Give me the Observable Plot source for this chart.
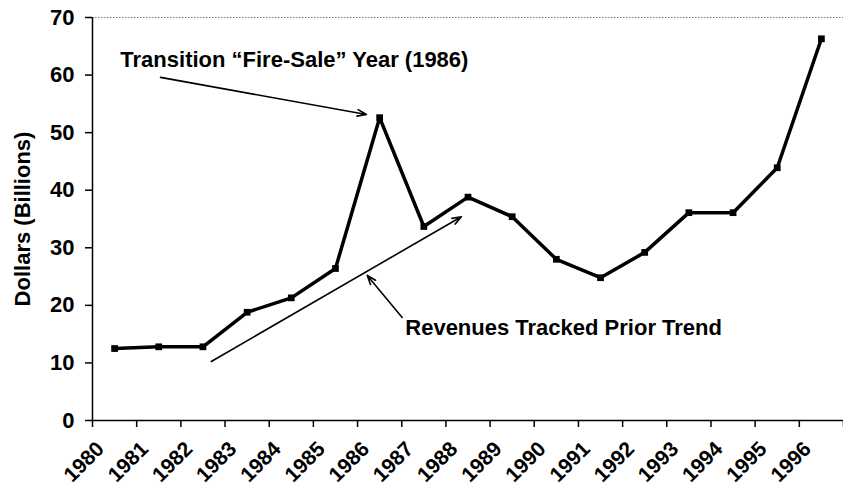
<!DOCTYPE html>
<html><head><meta charset="utf-8">
<script src="https://cdn.jsdelivr.net/npm/d3@7"></script>
<script src="https://cdn.jsdelivr.net/npm/@observablehq/plot@0.6"></script>
<style>body{margin:0;background:#fff}</style>
</head><body><div id="chart"></div>
<script>
const years = [1980,1981,1982,1983,1984,1985,1986,1987,1988,1989,1990,1991,1992,1993,1994,1995,1996];
const revenues = [12.5,12.8,12.8,18.8,21.3,26.4,52.6,33.7,38.8,35.4,28.0,24.8,29.2,36.1,36.1,43.9,66.3];
const yTicks = [0,10,20,30,40,50,60,70];
const xEdges = d3.range(1980, 1998);
const yLabel = "Dollars (Billions)";
const noteTexts = ["Transition \u201cFire-Sale\u201d Year (1986)", "Revenues Tracked Prior Trend"];
const noteX = [1980.63, 1987.08];
const noteY = [62.6, 16.0];
const arrowsX1 = [1981.54, 1982.69, 1987.01];
const arrowsY1 = [59.6, 10.25, 17.9];
const arrowsX2 = [1986.2, 1988.35, 1986.22];
const arrowsY2 = [53.15, 35.4, 25.2];

const data = years.map((y, i) => ({year: y, value: revenues[i]}));
const notes = noteTexts.map((t, i) => ({text: t, x: noteX[i], y: noteY[i]}));
const arrows = arrowsX1.map((x, i) => ({x1: x, y1: arrowsY1[i], x2: arrowsX2[i], y2: arrowsY2[i]}));
const font = "'Liberation Sans', Arial, sans-serif";

const chart = Plot.plot({
  width: 843, height: 491,
  marginLeft: 92, marginRight: 0, marginTop: 17, marginBottom: 71,
  style: {fontFamily: font, fontWeight: "bold", color: "#000", background: "#fff"},
  x: {domain: [1980, 1997], type: "linear"},
  y: {domain: [0, 70]},
  marks: [
    Plot.ruleY([70], {stroke: "#777", strokeDasharray: "1.5,1.5", strokeWidth: 1}),
    Plot.axisY({ticks: yTicks, tickSize: 7, tickPadding: 11, fontSize: 22, fontWeight: "bold",
      label: yLabel, labelAnchor: "center", labelArrow: "none", labelOffset: 78, stroke: "#000", strokeWidth: 1.5}),
    Plot.axisX({ticks: xEdges, tickSize: 7, tickFormat: () => "", label: null, stroke: "#000", strokeWidth: 1.5}),
    Plot.text(years, {x: d => d + 0.5, y: () => 0, text: d => String(d), rotate: -45, textAnchor: "end",
      dx: -14, dy: 25, fontSize: 21, fontWeight: "bold", fill: "#000"}),
    Plot.ruleX([1980], {stroke: "#000", strokeWidth: 1.5}),
    Plot.ruleY([0], {stroke: "#000", strokeWidth: 1.5}),
    Plot.line(data, {x: d => d.year + 0.5, y: "value", stroke: "#000", strokeWidth: 3.5}),
    Plot.dot(data, {x: d => d.year + 0.5, y: "value", symbol: "square", r: 3.8, fill: "#000"}),
    Plot.arrow(arrows, {x1: "x1", y1: "y1", x2: "x2", y2: "y2", stroke: "#000", strokeWidth: 1.6, headLength: 9, headAngle: 40}),
    Plot.text(notes, {x: "x", y: "y", text: "text", textAnchor: "start", fontSize: 22, fontWeight: "bold", fill: "#000"})
  ]
});
document.getElementById("chart").appendChild(chart);
</script>
</body></html>
